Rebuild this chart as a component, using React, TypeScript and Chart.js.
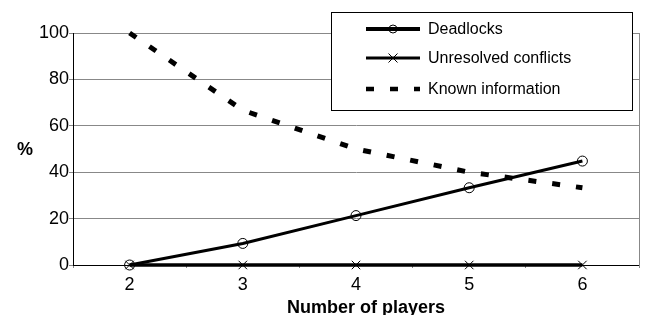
import React, { useEffect, useRef } from "react";
import { Chart, registerables } from "chart.js";

Chart.register(...registerables);

const categories = ["2", "3", "4", "5", "6"];
const deadlocks = [0, 9.3, 21.3, 33.3, 44.8];
const unresolvedConflicts = [0, 0, 0, 0, 0];
const knownInformation = [100, 66.7, 50, 40, 33.3];
const seriesLabels = ["Deadlocks", "Unresolved conflicts", "Known information"];
const yMin = 0;
const yMax = 100;
const yStep = 20;
const xAxisTitle = "Number of players";
const yAxisTitle = "%";

const FONT = "'Liberation Sans', Arial, Helvetica, sans-serif";
const DASH = [8, 16];

function drawMarker(ctx: CanvasRenderingContext2D, style: string, x: number, y: number, r: number) {
  ctx.save();
  ctx.setLineDash([]);
  ctx.lineWidth = 1;
  ctx.strokeStyle = "#000";
  ctx.beginPath();
  if (style === "circle") {
    ctx.arc(x, y, r, 0, Math.PI * 2);
  } else if (style === "crossRot") {
    ctx.moveTo(x - r * 0.75, y - r * 0.75);
    ctx.lineTo(x + r * 0.75, y + r * 0.75);
    ctx.moveTo(x + r * 0.75, y - r * 0.75);
    ctx.lineTo(x - r * 0.75, y + r * 0.75);
  }
  ctx.stroke();
  ctx.restore();
}

const overlayPlugin = {
  id: "overlay",
  afterDraw(chart: any) {
    const ctx: CanvasRenderingContext2D = chart.ctx;
    const a = chart.chartArea;
    ctx.save();
    // right border of plot
    ctx.strokeStyle = "#888";
    ctx.lineWidth = 1;
    ctx.setLineDash([]);
    ctx.beginPath();
    ctx.moveTo(a.right + 0.5, a.top);
    ctx.lineTo(a.right + 0.5, a.bottom + 3);
    ctx.stroke();

    // axis titles
    ctx.fillStyle = "#000";
    ctx.font = `bold 18px ${FONT}`;
    ctx.textAlign = "center";
    ctx.textBaseline = "alphabetic";
    ctx.fillText(xAxisTitle, 366, 313);
    ctx.fillText(yAxisTitle, 25, 155);

    // legend box
    const lx = 331, ly = 12, lw = 301, lh = 98;
    ctx.fillStyle = "#fff";
    ctx.fillRect(lx, ly, lw, lh);
    ctx.strokeStyle = "#000";
    ctx.lineWidth = 1;
    ctx.strokeRect(lx + 0.5, ly + 0.5, lw, lh);

    const rows = [29, 58, 89];
    const legendWidths = [4, 3, 4.5];
    const legendDash = [[], [], DASH];
    const legendMarkers = [["circle", 4], ["crossRot", 6], null] as any[];
    seriesLabels.forEach((label: string, i: number) => {
      const y = rows[i];
      ctx.save();
      ctx.strokeStyle = "#000";
      ctx.lineWidth = legendWidths[i];
      ctx.lineCap = "butt";
      ctx.setLineDash(legendDash[i]);
      ctx.beginPath();
      ctx.moveTo(366, y);
      ctx.lineTo(420, y);
      ctx.stroke();
      ctx.restore();
      const m = legendMarkers[i];
      if (m) drawMarker(ctx, m[0], 393, y, m[1]);
      ctx.fillStyle = "#000";
      ctx.font = `16px ${FONT}`;
      ctx.textAlign = "left";
      ctx.textBaseline = "middle";
      ctx.fillText(label, 428, y + 1);
    });
    ctx.restore();
  },
};

export default function App() {
  const ref = useRef<HTMLCanvasElement | null>(null);

  useEffect(() => {
    document.body.style.margin = "0";
    const canvas = ref.current;
    if (!canvas) return;
    const chart = new Chart(canvas, {
      type: "line",
      data: {
        labels: categories,
        datasets: [
          {
            label: seriesLabels[0],
            data: deadlocks,
            borderColor: "#000",
            borderWidth: 3,
            pointStyle: "circle",
            pointRadius: 5,
            pointBorderWidth: 1,
            pointBorderColor: "#000",
            pointBackgroundColor: "rgba(0,0,0,0)",
            tension: 0,
            fill: false,
            clip: false,
          },
          {
            label: seriesLabels[1],
            data: unresolvedConflicts,
            borderColor: "#000",
            borderWidth: 3.5,
            pointStyle: "crossRot",
            pointRadius: 6,
            pointBorderWidth: 1,
            pointBorderColor: "#000",
            pointBackgroundColor: "rgba(0,0,0,0)",
            tension: 0,
            fill: false,
            clip: false,
          },
          {
            label: seriesLabels[2],
            data: knownInformation,
            borderColor: "#000",
            borderWidth: 5,
            borderDash: DASH,
            borderCapStyle: "butt",
            pointRadius: 0,
            tension: 0,
            fill: false,
            clip: false,
          },
        ],
      },
      options: {
        responsive: false,
        animation: false,
        layout: { padding: { top: 33, right: 2, left: 0, bottom: 0 } },
        plugins: {
          legend: { display: false },
          tooltip: { enabled: false },
        },
        scales: {
          x: {
            offset: true,
            afterFit: (s: any) => { s.height = 50; },
            grid: {
              drawOnChartArea: false,
              drawTicks: true,
              tickLength: 3,
              color: "#888",
              offset: true,
            },
            border: { color: "#000", width: 1 },
            ticks: {
              color: "#000",
              font: { family: FONT, size: 18 },
              padding: 6,
              maxRotation: 0,
            },
          },
          y: {
            min: yMin,
            max: yMax,
            afterFit: (s: any) => { s.width = 73; },
            grid: {
              color: "#888",
              tickLength: 4,
            },
            border: { color: "#000", width: 1 },
            ticks: {
              stepSize: yStep,
              color: "#000",
              font: { family: FONT, size: 18 },
              padding: 0,
            },
          },
        },
      },
      plugins: [overlayPlugin],
    });
    return () => chart.destroy();
  }, []);

  return <canvas ref={ref} width={646} height={315} style={{ display: "block" }} />;
}
